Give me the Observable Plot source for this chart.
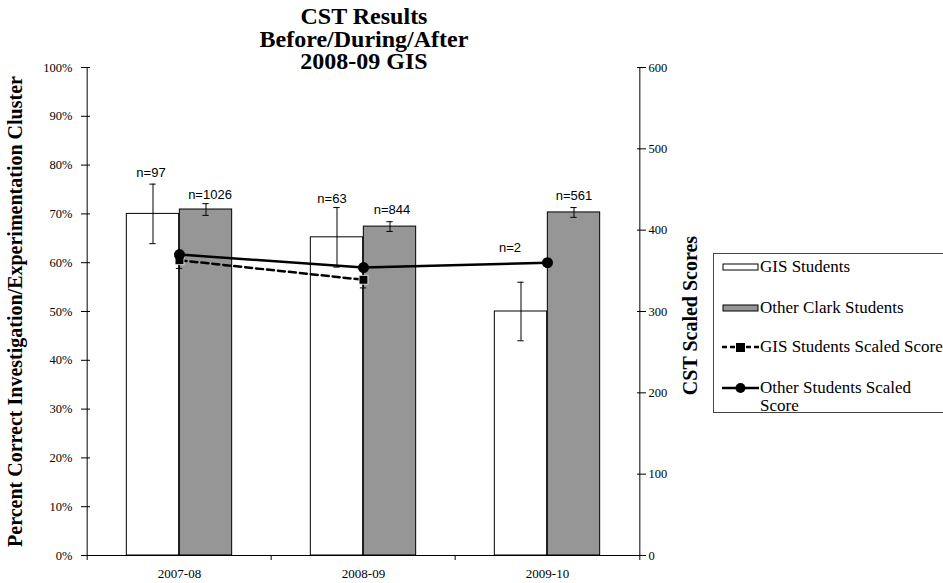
<!DOCTYPE html>
<html>
<head>
<meta charset="utf-8">
<script src="https://cdn.jsdelivr.net/npm/d3@7"></script>
<script src="https://cdn.jsdelivr.net/npm/@observablehq/plot@0.6"></script>
<style>
  html, body { margin: 0; padding: 0; background: #fff; }
  #wrap { position: relative; width: 943px; height: 583px; overflow: hidden; }
  #chart { position: absolute; left: 0; top: 0; }
  #title { position: absolute; left: 114px; width: 500px; top: 5px; text-align: center;
    font: bold 24px "Liberation Serif", "Times New Roman", serif; line-height: 22.5px; color: #000; }
  #legend { position: absolute; left: 713px; top: 253px; width: 260px; height: 160px;
    border: 1px solid #444; box-sizing: border-box; font: 17px "Liberation Serif", "Times New Roman", serif; color: #000; }
  .item { position: absolute; left: 8px; display: flex; align-items: flex-start; white-space: nowrap; }
  .item svg { flex: none; margin-top: 3px; }
  .item span { line-height: 17.5px; margin-left: 1px; }
</style>
</head>
<body>
<div id="wrap">
  <div id="chart"></div>
  <div id="title">CST Results<br>Before/During/After<br>2008-09 GIS</div>
  <div id="legend"></div>
</div>
<script>
// ---- data ----
const years = ["2007-08", "2008-09", "2009-10"];
const gisPct = [70.0, 65.2, 50.0];
const gisErr = [6.1, 6.1, 6.0];
const otherPct = [70.9, 67.4, 70.3];
const otherErr = [1.2, 1.0, 1.0];
const gisN = [97, 63, 2];
const otherN = [1026, 844, 561];
const gisScaled = [363, 339, null];
const gisScaledErr = [10, 10, null];
const otherScaled = [370, 354, 360];
const otherScaledErr = [3, 3, 3];
const leftTicks = [0, 10, 20, 30, 40, 50, 60, 70, 80, 90, 100];
const rightTicks = [0, 100, 200, 300, 400, 500, 600];
const rightMax = 600;
const seriesNames = ["GIS Students", "Other Clark Students", "GIS Students Scaled Score", "Other Students Scaled Score"];
const leftLabel = "Percent Correct Investigation/Experimentation Cluster";
const rightLabel = "CST Scaled Scores";

// ---- layout/style ----
const W = 943, H = 583, ML = 86, MR = 303, MT = 67, MB = 28;
const bw = (W - ML - MR) / years.length;
const barW = 53;
const half = barW / 2;
const capHalf = 3.5;
const gray = "#969696";
const toLeft = v => v / rightMax * 100;
// label nudges (pixels), styling only
const gisLabelNudge = [[-2, -11], [-5, -9], [-11, -34]];
const otherLabelNudge = [[4, -9], [2, -12], [0, -12]];

const gis = years.map((year, i) => ({year, pct: gisPct[i], err: gisErr[i], n: gisN[i]}));
const other = years.map((year, i) => ({year, pct: otherPct[i], err: otherErr[i], n: otherN[i]}));
const gisS = years.map((year, i) => ({year, s: gisScaled[i], e: gisScaledErr[i]})).filter(d => d.s != null);
const otherS = years.map((year, i) => ({year, s: otherScaled[i], e: otherScaledErr[i]})).filter(d => d.s != null);

const sans = "Liberation Sans, Arial, sans-serif";
const cap = {insetLeft: bw / 2 - capHalf, insetRight: bw / 2 - capHalf, stroke: "#000"};

const nLabels = (rows, side, nudges) => rows.map((d, i) => Plot.text([d], {
  x: "year", y: r => r.pct + r.err, text: r => "n=" + r.n,
  dx: side * half + nudges[i][0], dy: nudges[i][1], fontFamily: sans, fontSize: 13
}));

const plot = Plot.plot({
  width: W, height: H,
  marginLeft: ML, marginRight: MR, marginTop: MT, marginBottom: MB,
  style: {fontFamily: "Liberation Serif, Times New Roman, serif", fontSize: "12.5px", color: "#000", background: "#fff"},
  x: {domain: years, padding: 0, axis: null},
  y: {domain: [0, 100], axis: null},
  marks: [
    // bars
    Plot.barY(gis, {x: "year", y: "pct", fill: "#fff", stroke: "#000", strokeWidth: 1,
      insetLeft: bw / 2 - barW, insetRight: bw / 2}),
    Plot.barY(other, {x: "year", y: "pct", fill: gray, stroke: "#000", strokeWidth: 1,
      insetLeft: bw / 2, insetRight: bw / 2 - barW}),
    // error bars on bars
    Plot.ruleX(gis, {x: "year", y1: d => d.pct - d.err, y2: d => d.pct + d.err, dx: -half, stroke: "#000"}),
    Plot.tickY(gis, {x: "year", y: d => d.pct - d.err, dx: -half, ...cap}),
    Plot.tickY(gis, {x: "year", y: d => d.pct + d.err, dx: -half, ...cap}),
    Plot.ruleX(other, {x: "year", y1: d => d.pct - d.err, y2: d => d.pct + d.err, dx: half, stroke: "#000"}),
    Plot.tickY(other, {x: "year", y: d => d.pct - d.err, dx: half, ...cap}),
    Plot.tickY(other, {x: "year", y: d => d.pct + d.err, dx: half, ...cap}),
    // n labels
    ...nLabels(gis, -1, gisLabelNudge),
    ...nLabels(other, 1, otherLabelNudge),
    // scaled score error bars
    Plot.ruleX(gisS, {x: "year", y1: d => toLeft(d.s - d.e), y2: d => toLeft(d.s + d.e), stroke: "#000"}),
    Plot.tickY(gisS, {x: "year", y: d => toLeft(d.s - d.e), ...cap}),
    Plot.ruleX(otherS, {x: "year", y1: d => toLeft(d.s - d.e), y2: d => toLeft(d.s + d.e), stroke: "#000"}),
    // scaled score lines
    Plot.lineY(gisS, {x: "year", y: d => toLeft(d.s), stroke: "#000", strokeWidth: 2.5, strokeDasharray: "7,4"}),
    Plot.dot(gisS, {x: "year", y: d => toLeft(d.s), symbol: "square", r: 5, fill: "#000", stroke: "#fff", strokeWidth: 0.8}),
    Plot.lineY(otherS, {x: "year", y: d => toLeft(d.s), stroke: "#000", strokeWidth: 2.5}),
    Plot.dot(otherS, {x: "year", y: d => toLeft(d.s), symbol: "circle", r: 5.5, fill: "#000"}),
    // axis lines
    Plot.ruleY([0], {stroke: "#000"}),
    Plot.ruleX([years[0]], {dx: -bw / 2, stroke: "#000"}),
    Plot.ruleX([years[years.length - 1]], {dx: bw / 2, stroke: "#000"}),
    // left axis
    Plot.axisY(leftTicks, {anchor: "left", label: null, tickSize: 5, tickPadding: 9, tickFormat: d => d + "%", fontSize: 12.5}),
    Plot.axisY(leftTicks, {anchor: "left", label: null, tickSize: -4, tickFormat: () => ""}),
    // right axis
    Plot.axisY(rightTicks.map(toLeft), {anchor: "right", label: null, tickSize: 5, tickPadding: 3, tickFormat: d => String(Math.round(d * rightMax / 100)), fontSize: 12.5}),
    Plot.axisY(rightTicks.map(toLeft), {anchor: "right", label: null, tickSize: -4, tickFormat: () => ""}),
    // x axis
    Plot.axisX(years, {anchor: "bottom", label: null, tickSize: 0, tickPadding: 13, fontSize: 13}),
    Plot.axisX(years, {anchor: "bottom", label: null, tickSize: 5, dx: -bw / 2, tickFormat: () => ""}),
    Plot.axisX([years[years.length - 1]], {anchor: "bottom", label: null, tickSize: 5, dx: bw / 2, tickFormat: () => ""}),
    // axis titles
    Plot.text([leftLabel], {frameAnchor: "left", textAnchor: "middle", lineAnchor: "middle", dx: -71, rotate: -90, fontWeight: "bold", fontSize: 20}),
    Plot.text([rightLabel], {frameAnchor: "right", textAnchor: "middle", lineAnchor: "middle", dx: 50, dy: 4, rotate: -90, fontWeight: "bold", fontSize: 20})
  ]
});
document.getElementById("chart").appendChild(plot);

// ---- legend ----
const swatches = [
  `<svg width="37" height="12"><rect x="1" y="3" width="35" height="6" fill="#fff" stroke="#000"/></svg>`,
  `<svg width="37" height="12"><rect x="1" y="3" width="35" height="6" fill="${gray}" stroke="#000"/></svg>`,
  `<svg width="37" height="12"><line x1="0" y1="6" x2="37" y2="6" stroke="#000" stroke-width="2.5" stroke-dasharray="5,3"/><rect x="14" y="2" width="9" height="9" fill="#000"/></svg>`,
  `<svg width="37" height="12"><line x1="0" y1="6" x2="37" y2="6" stroke="#000" stroke-width="2.5"/><circle cx="18.5" cy="6" r="5" fill="#000"/></svg>`
];
const legendTops = [4, 45, 84, 125];
const legend = document.getElementById("legend");
seriesNames.forEach((name, i) => {
  const div = document.createElement("div");
  div.className = "item";
  div.style.top = legendTops[i] + "px";
  const label = i === 3 ? "Other Students Scaled<br>Score" : name;
  div.innerHTML = swatches[i] + `<span>${label}</span>`;
  legend.appendChild(div);
});
</script>
</body>
</html>
